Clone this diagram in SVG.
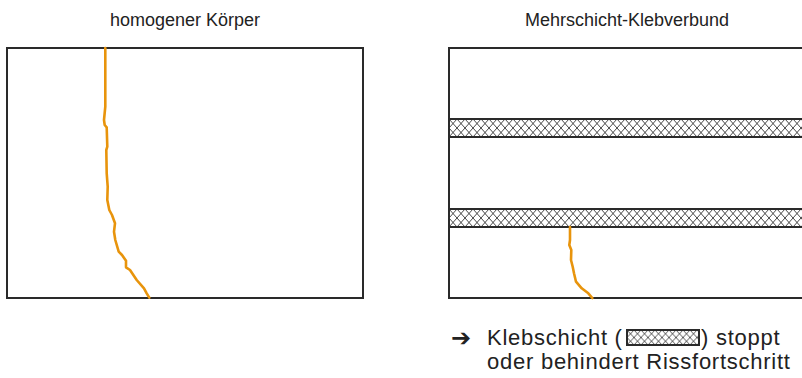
<svg xmlns="http://www.w3.org/2000/svg" width="802" height="378" viewBox="0 0 802 378">
<style>
.t{font-family:"Liberation Sans",Arial,sans-serif;fill:#222}
.title{font-size:18px;text-anchor:middle}
.note{font-size:22px;letter-spacing:0.75px}
.box{fill:#fff;stroke:#2a2a2a;stroke-width:2}
.band{fill:url(#hatch);stroke:#2a2a2a;stroke-width:2}
.crack{fill:none;stroke:#E8940C;stroke-width:2.6;stroke-linejoin:round;stroke-linecap:round}
</style>
<defs>
<pattern id="hatch" patternUnits="userSpaceOnUse" x="449" y="119" width="8" height="9">
<rect width="8" height="9" fill="#fff"/>
<path d="M0,0 L8,9 M8,0 L0,9" stroke="#333" stroke-width="0.9" fill="none"/>
</pattern>
<pattern id="hatch2" patternUnits="userSpaceOnUse" x="627" y="330" width="7" height="7.5">
<rect width="7" height="7.5" fill="#fff"/>
<path d="M0,0 L7,7.5 M7,0 L0,7.5" stroke="#333" stroke-width="0.8" fill="none"/>
</pattern>
</defs>
<g id="title-left"><text class="t title" x="185" y="26">homogener Körper</text></g>
<g id="title-right"><text class="t title" x="627" y="26">Mehrschicht-Klebverbund</text></g>
<g id="body-left">
<rect class="box" x="7" y="48" width="356" height="250"/>
<path class="crack" d="M105.3,48 L105.3,106.7 L104,120 L104.7,125 L106.7,127.3 L107.3,146.7 L106.3,150 L106.7,173.3 L107.7,186.7 L107.3,200 L109.3,210 L112,215 L115,223.3 L114,231.7 L115.3,240 L118.7,251.7 L122,255 L126,260.7 L126,267.3 L130,270 L136.7,280 L144,288.3 L146.7,293.3 L149.3,297.7"/>
</g>
<g id="body-right">
<rect class="box" x="449" y="48" width="370" height="250"/>
<rect class="band" x="449" y="119" width="370" height="18"/>
<rect class="band" x="449" y="209" width="370" height="18"/>
<path class="crack" d="M570,227 L570,240 L569.3,245 L571.3,250 L571,260 L572.7,266.7 L574,273.3 L576,281.7 L581.7,288.3 L588.3,293.3 L592.3,298"/>
</g>
<g id="note">
<text class="t" x="451" y="346" style="font-family:'DejaVu Sans',sans-serif;font-size:24px">➔</text>
<text class="t note" x="487" y="345">Klebschicht (</text>
<rect x="627" y="330" width="72" height="15" fill="url(#hatch2)" stroke="#2a2a2a" stroke-width="2"/>
<text class="t note" x="701" y="345">) stoppt</text>
<text class="t note" x="487" y="369">oder behindert Rissfortschritt</text>
</g>
</svg>
